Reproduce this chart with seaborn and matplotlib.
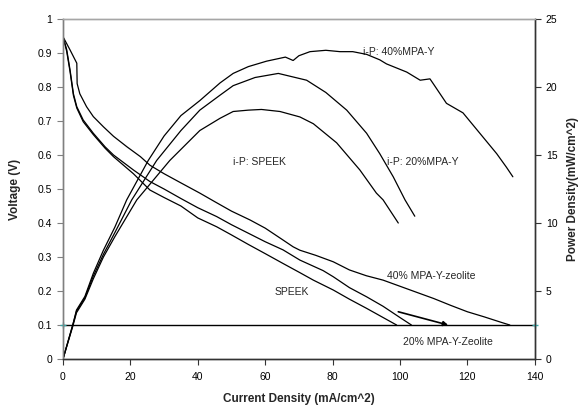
import numpy as np
import pandas as pd
import matplotlib
matplotlib.use("Agg")
import matplotlib.pyplot as plt
import seaborn as sns

# Voltage curves (current density mA/cm^2, voltage V)
v40_x = [0, 2.1, 4.1, 4.2, 5, 7, 9, 12, 15, 19, 23, 25.8, 30, 35, 40.6, 45, 50, 55.5,
         60, 65, 68.3, 70.3, 75, 80.2, 85, 90, 95, 100, 105, 110, 115, 120, 125, 130, 132.6]
v40_y = [0.948, 0.909, 0.87, 0.81, 0.78, 0.742, 0.713, 0.683, 0.655, 0.624, 0.595,
         0.57, 0.545, 0.518, 0.488, 0.463, 0.435, 0.409, 0.385, 0.352, 0.33, 0.32, 0.305, 0.286,
         0.262, 0.245, 0.232, 0.214, 0.196, 0.178, 0.158, 0.139, 0.124, 0.108, 0.1]

v20_x = [0, 1.1, 2.1, 3.1, 4.1, 6, 9, 12.5, 15, 20.9, 25.8, 30, 35, 40, 45.6, 50, 55, 60, 65.3,
         70.3, 77.2, 80.2, 85, 90.1, 95, 100, 103.4]
v20_y = [0.948, 0.91, 0.85, 0.78, 0.742, 0.703, 0.664, 0.624, 0.6, 0.556, 0.522, 0.5, 0.472,
         0.445, 0.419, 0.395, 0.37, 0.345, 0.321, 0.291, 0.26, 0.242, 0.21, 0.183, 0.155,
         0.122, 0.1]

vsp_x = [0, 1.1, 2.1, 3.1, 4.1, 6, 9, 12.5, 15, 20.9, 25.8, 30, 35, 40, 45.6, 50, 55, 60, 65.3,
         70.3, 74.3, 80.2, 85, 90.1, 95, 99]
vsp_y = [0.948, 0.905, 0.845, 0.775, 0.738, 0.698, 0.66, 0.62, 0.595, 0.545, 0.497, 0.475,
         0.45, 0.415, 0.389, 0.365, 0.337, 0.31, 0.281, 0.254, 0.232, 0.203, 0.176, 0.149,
         0.122, 0.1]

# Power density curves (mW/cm^2)
p40_x = [0, 2.9, 4, 6.5, 9, 12, 15.4, 18.9, 25.3, 30, 35, 40.6, 46.6, 50.5, 55, 60.4, 66, 68.3,
         70, 73.3, 78, 82.2, 86, 90.1, 94, 96, 102, 106, 108.9, 110, 113.8, 118.7, 123.7,
         128.7, 131.6, 133.5]
p40_y = [0, 2.5, 3.6, 4.6, 6.3, 8.0, 9.7, 11.7, 14.6, 16.4, 17.9, 19.0, 20.3, 21.0, 21.5,
         21.9, 22.2, 21.95, 22.3, 22.6, 22.7, 22.6, 22.6, 22.4, 22.0, 21.7, 21.1, 20.5, 20.6,
         20.2, 18.8, 18.1, 16.6, 15.1, 14.1, 13.4]

p20_x = [0, 2.9, 4, 6.5, 9, 12, 15.4, 20.4, 27.8, 35, 40.6, 46.6, 50.5, 57, 63.9, 72.3, 78,
         84.2, 90.1, 94, 98, 101.5, 104.4]
p20_y = [0, 2.5, 3.5, 4.5, 6.1, 7.7, 9.3, 11.7, 14.6, 16.8, 18.3, 19.4, 20.1, 20.7, 21.0,
         20.5, 19.6, 18.3, 16.6, 15.1, 13.4, 11.7, 10.5]

psp_x = [0, 2.9, 4, 6.5, 9, 12, 15.4, 21.9, 31.7, 40.6, 46.6, 50.5, 55, 58.9, 64.4, 70.3,
         74.3, 81.2, 88.1, 93, 95, 99.5]
psp_y = [0, 2.4, 3.4, 4.4, 5.9, 7.5, 9.0, 11.7, 14.6, 16.8, 17.7, 18.2, 18.3, 18.35, 18.2,
         17.8, 17.3, 15.9, 13.9, 12.2, 11.7, 10.0]

# cut-off line at 0.1 V
cut_x = [0, 140]
cut_y = [0.1, 0.1]

left_ticks = [0, 0.1, 0.2, 0.3, 0.4, 0.5, 0.6, 0.7, 0.8, 0.9, 1]
left_labels = ["0", "0.1", "0.2", "0.3", "0.4", "0.5", "0.6", "0.7", "0.8", "0.9", "1"]
right_ticks = [0, 5, 10, 15, 20, 25]
x_ticks = [0, 20, 40, 60, 80, 100, 120, 140]

sns.set_style("white")
plt.rcParams['font.family'] = ['Liberation Sans', 'DejaVu Sans']

fig = plt.figure(figsize=(5.8, 4.09), dpi=100)
ax = fig.add_axes([0.1086, 0.1222, 0.8134, 0.8313])
ax2 = ax.twinx()

lw = 0.9
for xs, ys in [(v40_x, v40_y), (v20_x, v20_y), (vsp_x, vsp_y)]:
    sns.lineplot(x=xs, y=ys, ax=ax, color="black", lw=lw, estimator=None, sort=False)
for xs, ys in [(p40_x, p40_y), (p20_x, p20_y), (psp_x, psp_y)]:
    sns.lineplot(x=xs, y=ys, ax=ax2, color="black", lw=lw, estimator=None, sort=False)

ax.plot(cut_x, cut_y, color="black", lw=1.0, clip_on=False, zorder=3)
ax.plot(cut_x, cut_y, ls="none", marker="+", ms=5, mew=1.0, color="#3aa6a6",
        clip_on=False, zorder=4)

ax.set_xlim(0, 140)
ax.set_ylim(0, 1)
ax2.set_ylim(0, 25)
ax.set_xticks(x_ticks)
ax.set_yticks(left_ticks)
ax.set_yticklabels(left_labels)
ax2.set_yticks(right_ticks)

fs = 7.5
ax.tick_params(axis="x", direction="out", length=4, width=0.8, labelsize=fs, pad=5,
               colors="#333333", labelcolor="black", bottom=True)
ax.tick_params(axis="y", direction="out", length=4, width=0.8, labelsize=fs, pad=4,
               colors="#808080", labelcolor="black", left=True)
ax2.tick_params(axis="y", direction="out", length=4, width=0.8, labelsize=fs, pad=4,
                colors="#333333", labelcolor="black", right=True)

for a in (ax, ax2):
    a.spines["top"].set_color("#a6a6a6")
    a.spines["left"].set_color("#808080")
    a.spines["right"].set_color("#333333")
    a.spines["bottom"].set_color("#333333")
    for s in a.spines.values():
        s.set_linewidth(1.0)

ax.set_xlabel("Current Density (mA/cm^2)", fontsize=8.5, fontweight="bold", labelpad=8)
ax.set_ylabel("Voltage (V)", fontsize=8.5, fontweight="bold", labelpad=12)
ax2.set_ylabel("Power Density(mW/cm^2)", fontsize=8.5, fontweight="bold", labelpad=7)

tfs = 7.5
ax.text(89, 0.903, "i-P: 40%MPA-Y", fontsize=tfs, va="center", ha="left")
ax.text(50.4, 0.58, "i-P: SPEEK", fontsize=tfs, va="center", ha="left")
ax.text(96.1, 0.58, "i-P: 20%MPA-Y", fontsize=tfs, va="center", ha="left")
ax.text(96.1, 0.244, "40% MPA-Y-zeolite", fontsize=tfs, va="center", ha="left")
ax.text(62.9, 0.198, "SPEEK", fontsize=tfs, va="center", ha="left")
ax.text(100.8, 0.049, "20% MPA-Y-Zeolite", fontsize=tfs, va="center", ha="left")
ax.annotate("", xy=(114.3, 0.1), xytext=(99.5, 0.139),
            arrowprops=dict(arrowstyle="-|>", color="black", lw=1.2,
                            mutation_scale=7, shrinkA=0, shrinkB=0))

fig.savefig("out.png", dpi=100)
